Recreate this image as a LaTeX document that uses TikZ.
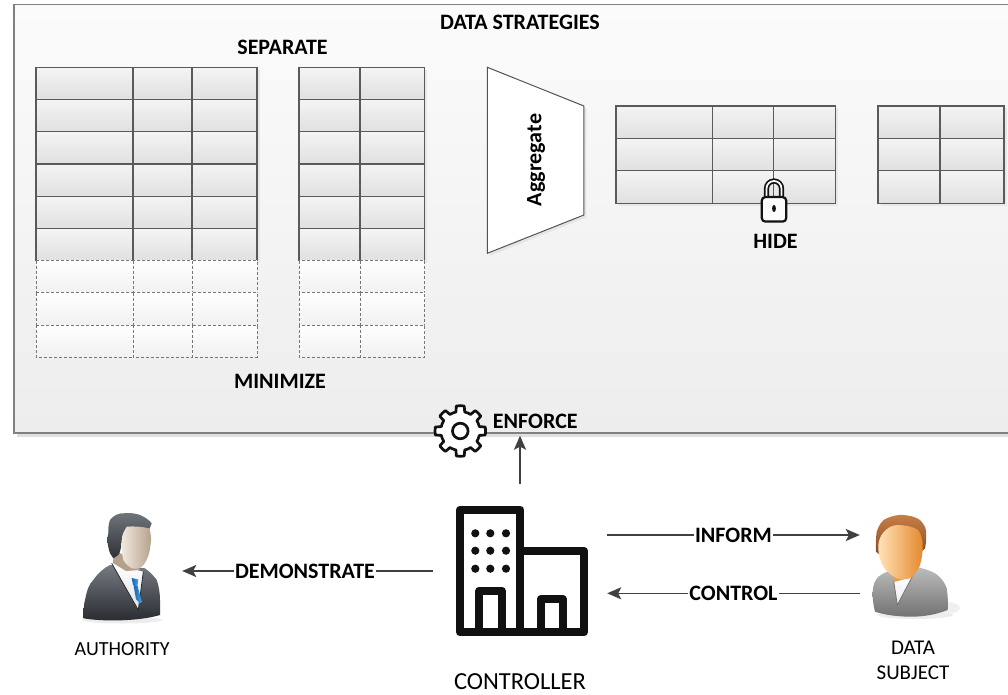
\documentclass[tikz,border=0pt]{standalone}
\usepackage{fontspec}
\setmainfont{Carlito}
\usetikzlibrary{arrows.meta,shadows}

\definecolor{boxborder}{HTML}{808080}
\definecolor{boxtop}{HTML}{FBFBFB}
\definecolor{boxbot}{HTML}{EDEDED}
\definecolor{cellline}{HTML}{5A5A5A}
\definecolor{celltop}{HTML}{F4F4F4}
\definecolor{cellbot}{HTML}{E0E0E0}
\definecolor{dashline}{HTML}{767676}
\definecolor{dashbot}{HTML}{F1F1F1}
\definecolor{arrowgray}{HTML}{404040}
\definecolor{iconblack}{HTML}{111111}
\definecolor{suitlight}{HTML}{767A81}
\definecolor{suitdark}{HTML}{272A2F}
\definecolor{hairlight}{HTML}{70757C}
\definecolor{hairdark}{HTML}{2E3136}
\definecolor{skinlight}{HTML}{F1E9DE}
\definecolor{skindark}{HTML}{B5A18B}
\definecolor{tiedark}{HTML}{1563B0}
\definecolor{tielight}{HTML}{45A3EC}
\definecolor{bodylight}{HTML}{BDBDBD}
\definecolor{bodydark}{HTML}{727272}
\definecolor{facelight}{HTML}{FFE3B8}
\definecolor{facedark}{HTML}{E5892B}
\definecolor{brownlight}{HTML}{C77F47}
\definecolor{browndark}{HTML}{8A4A22}

\newcommand\lblfont{\bfseries\fontsize{22}{26}\selectfont}

\begin{document}
\begin{tikzpicture}[x=1pt,y=1pt,
  panel/.style={draw=boxborder, line width=1.4pt, top color=boxtop, bottom color=boxbot,
    minimum width=1006pt, minimum height=428.5pt, inner sep=0pt,
    drop shadow={shadow xshift=3pt, shadow yshift=-3.5pt, fill=black!12, opacity=1}},
  head/.style={font=\lblfont, inner sep=0pt},
  cell/.style={draw=cellline, line width=1.1pt, top color=celltop, bottom color=cellbot},
  ghostcell/.style={draw=dashline, line width=0.9pt, dash pattern=on 3pt off 2pt,
    top color=white, bottom color=dashbot},
  tshadow/.style={fill=black!9},
  funnel/.style={draw=arrowgray!90, line width=1pt, fill=white},
  gear/.style={draw=iconblack, line width=2.7pt, line join=round, fill=white},
  lockline/.style={draw=iconblack, line width=2.2pt},
  lbl/.style={font=\lblfont, inner sep=1pt, fill=white},
  arr/.style={draw=arrowgray, line width=1.6pt, -{Stealth[length=14pt,width=12pt,inset=3pt]}},
  hub/.style={inner sep=0pt, minimum width=#1, minimum height=110pt},
  caption/.style={inner sep=0pt, align=center}
]
\useasboundingbox (0,0) rectangle (1008,694);

% ---------- data strategies panel ----------
\node[panel] (strategies) at (517,475.25) {};
\node[head] (title) at (520,672) {DATA STRATEGIES};
\node[head] (separate) at (282.5,647) {SEPARATE};
\node[head] (minimize) at (280,312.3) {MINIMIZE};

% separated tables with minimised (dashed) rows
\fill[tshadow] (38.5,624.2) rectangle (259.5,430.9);
\fill[tshadow] (301.5,624.2) rectangle (426.8,430.9);
\foreach \r in {0,...,5}{
  \foreach \xa/\xb in {36/133,133/192,192/257,299/360,360/424.3}
    \path[cell] (\xa,{626.7-\r*32.22}) rectangle (\xb,{626.7-(\r+1)*32.22});
}
\foreach \r in {6,7,8}{
  \foreach \xa/\xb in {36/133,133/192,192/257,299/360,360/424.3}
    \path[ghostcell] (\xa,{626.7-\r*32.22}) rectangle (\xb,{626.7-(\r+1)*32.22});
}

% aggregation funnel
\fill[black!10] (489.8,624.2) -- (586.4,585.5) -- (586.4,476.5) -- (489.8,438.2) -- cycle;
\path[funnel] (487.3,626.7) -- (583.9,588) -- (583.9,479) -- (487.3,440.7) -- cycle;
\node[head, rotate=90] (aggregate) at (536,534) {Aggregate};

% aggregated tables
\fill[tshadow] (618.5,585.5) rectangle (837.9,488.2);
\fill[tshadow] (880.5,585.5) rectangle (1006.5,488.2);
\foreach \r in {0,1,2}{
  \foreach \xa/\xb in {616/712.2,712.2/773.3,773.3/835.4,878/940,940/1004}
    \path[cell] (\xa,{588-\r*32.43}) rectangle (\xb,{588-(\r+1)*32.43});
}

% padlock
\draw[draw=iconblack, line width=1.7pt, double=boxtop, double distance=1.8pt]
  (766.5,497) -- (766.5,505.5) arc[start angle=180, end angle=0, radius=7.5] -- (781.5,497);
\draw[lockline, fill=boxtop, rounded corners=3.5pt] (761.8,496.9) rectangle (786.2,472.4);
\fill[iconblack] (774,485.5) ellipse [x radius=1.9, y radius=3.6];
\node[head] (hide) at (775.5,452.3) {HIDE};

% ---------- enforcement ----------
\begin{scope}[shift={(460.3,263)}]
  \draw[gear] (-13:19.5)
    \foreach \a in {0,45,...,315}{
      -- ({\a-9}:25.3) arc[start angle={\a-9}, end angle={\a+9}, radius=25.3]
      -- ({\a+13}:19.5) arc[start angle={\a+13}, end angle={\a+32}, radius=19.5]
    } -- cycle;
  \draw[gear, fill=none] (0,0) circle[radius=7.8];
\end{scope}
\node[head] (enforce) at (535.3,272.3) {ENFORCE};

% ---------- controller ----------
\node[hub=174pt, minimum height=131pt] (controller) at (520,123) {};
\begin{scope}[draw=iconblack, line width=8pt, line join=round]
  \draw (520.3,61.7) -- (520.3,184.3) -- (460,184.3) -- (460,61.7) -- (584.2,61.7)
        -- (584.2,143.2) -- (520.3,143.2);
  \draw (479.2,61.7) -- (479.2,103.2) -- (501.8,103.2) -- (501.8,61.7);
  \draw (540.8,61.7) -- (540.8,95.2) -- (562.5,95.2) -- (562.5,61.7);
\end{scope}
\foreach \dx in {475.3,490.3,506}
  \foreach \dy in {160.7,143.3,125.3}
    \fill[iconblack] (\dx,\dy) circle[radius=4.1];
\node[caption, font=\fontsize{24.5}{28}\selectfont] (controllerlbl) at (520,12.6) {CONTROLLER};

% ---------- authority ----------
\node[hub=120pt] (authority) at (122,123) {};
\fill[black!7] (122,74) ellipse [x radius=40, y radius=3.5];
\shade[top color=suitlight, bottom color=suitdark]
  (83.3,75.7) .. controls (83.5,85) and (84,91) .. (85,94)
  .. controls (87,104) and (89,110) .. (93.3,114)
  .. controls (98,121) and (104,126) .. (110,129) -- (145,125.7)
  .. controls (150,122) and (154,118) .. (156.7,114)
  .. controls (159,108) and (160,100) .. (160,94) -- (160,79)
  .. controls (140,73) and (105,72) .. (83.3,75.7) -- cycle;
\shade[top color=white, bottom color=black!12] (111.7,130.7) -- (143.3,122.3) -- (138.3,84) -- cycle;
\draw[suitdark, line width=0.8pt] (111.7,130.7) -- (138.3,84) -- (143.3,122.3);
\shade[left color=tiedark, right color=tielight]
  (131.7,116) -- (138.3,114.5) -- (137.5,108.5) -- (133,109) -- cycle;
\shade[left color=tiedark, right color=tielight]
  (133.5,109) -- (137.5,108.5) -- (141.7,92.3) -- (140,90.3) -- (136,95) -- cycle;
\fill[skindark] (114,144) -- (113,131) -- (126,123) -- (140,124) -- (133,134) -- cycle;
\shade[top color=hairlight, bottom color=hairdark]
  (110,140.7) .. controls (107,150) and (107,156) .. (108.3,160.7)
  .. controls (108,167) and (109,171) .. (110,174)
  .. controls (114,179) and (119,181) .. (123.3,180.7)
  .. controls (130,181.5) and (136,180.5) .. (140,179)
  .. controls (145,177) and (149,174) .. (151.7,170.7) -- (149.3,164.7)
  .. controls (143,166) and (136,167) .. (131.7,166.7)
  .. controls (128,166) and (126,165) .. (125,164)
  .. controls (122,160) and (121.5,155) .. (121.7,150.7)
  .. controls (121,146) and (120,141) .. (118.3,139) -- (113.3,135.7) -- cycle;
\shade[left color=skinlight, right color=skindark]
  (126.7,167.3) .. controls (135,168) and (143,167) .. (149.3,165.7)
  .. controls (151,160) and (151.5,155) .. (150.7,150.7)
  .. controls (150,144) and (149,139) .. (147.3,135.7)
  .. controls (145,130) and (142,127) .. (139.3,125.7)
  .. controls (136,125) and (134,125.5) .. (131.7,125.7)
  .. controls (128,128) and (125,131) .. (123.3,134)
  .. controls (122,140) and (121.5,146) .. (121.7,150.7)
  .. controls (122,157) and (124,163) .. (126.7,167.3) -- cycle;
\node[caption, font=\fontsize{20}{24}\selectfont] (authoritylbl) at (122.2,44.7) {AUTHORITY};

% ---------- data subject ----------
\node[hub=100pt] (subject) at (910,123) {};
\fill[black!7] (915,79) ellipse [x radius=38, y radius=4];
\fill[black!6] (946,86) ellipse [x radius=14, y radius=6];
\shade[top color=bodylight, bottom color=bodydark]
  (875,82.3) .. controls (873,90) and (872.5,96) .. (872.7,102.3)
  .. controls (873,109) and (875,114) .. (878.3,117.3)
  .. controls (883,121) and (888,123) .. (893.3,124) -- (915,127.3)
  .. controls (922,126) and (929,124) .. (935,120.7)
  .. controls (941,117) and (945,111) .. (946.7,105.7)
  .. controls (948,98) and (948,90) .. (947.7,84)
  .. controls (935,79) and (922,77.3) .. (911.7,77.3)
  .. controls (898,77.3) and (885,79) .. (875,82.3) -- cycle;
\shade[top color=white, bottom color=black!8] (893.7,113) -- (912.7,118.3) -- (897.3,89) -- cycle;
\draw[bodydark, line width=0.8pt] (893.7,113) -- (897.3,89) -- (912.7,118.3);
\fill[facedark!85] (893,124) -- (912,128) -- (912.7,117) -- (894,112) -- cycle;
\shade[top color=brownlight, bottom color=browndark]
  (876,142.3) .. controls (875.5,150) and (876,157) .. (876.7,162.3)
  .. controls (879,169) and (882,174) .. (886.7,175.7)
  .. controls (892,178) and (898,179.5) .. (903.3,179)
  .. controls (910,178.5) and (916,177) .. (920,174)
  .. controls (924,170) and (926,166) .. (926,162.3)
  .. controls (926.5,156) and (926,150) .. (925,145.7) -- (921.7,142.3)
  .. controls (921.5,148) and (921,153) .. (920,157.3)
  .. controls (916,161) and (911,163) .. (906.7,164)
  .. controls (900,163.5) and (894,163) .. (890,162.3)
  .. controls (886,160) and (883,156) .. (881.7,152.3)
  .. controls (880.5,148) and (880,143) .. (880,139) -- cycle;
\shade[left color=facelight, right color=facedark]
  (896.7,169) .. controls (905,169) and (914,167) .. (918.3,164)
  .. controls (921.5,159) and (923,153) .. (922.7,147.3)
  .. controls (922.5,140) and (921.5,134) .. (920,129)
  .. controls (917,122) and (913,117) .. (908.3,115)
  .. controls (904,114.5) and (900,115) .. (896.7,115.7)
  .. controls (890,119) and (884.5,124) .. (881.7,130.7)
  .. controls (879,137) and (878,143) .. (878.3,149)
  .. controls (879,158) and (886,168) .. (896.7,169) -- cycle;
\node[caption, font=\fontsize{21}{25}\selectfont] (subjectlbl) at (913,33.2) {DATA\\SUBJECT};

% ---------- connectors ----------
\draw[arr] ([yshift=21.5pt]controller.north) -- ([yshift=-2pt]controller.north |- strategies.south);
\draw[arr] (controller.west) -- node[lbl, pos=0.51] {DEMONSTRATE} (authority.east);
\draw[arr] ([yshift=36pt]controller.east) -- node[lbl] {INFORM} ([yshift=36pt]subject.west);
\draw[arr] ([yshift=-22.3pt]subject.west) -- node[lbl] {CONTROL} ([yshift=-22.3pt]controller.east);
\end{tikzpicture}
\end{document}
